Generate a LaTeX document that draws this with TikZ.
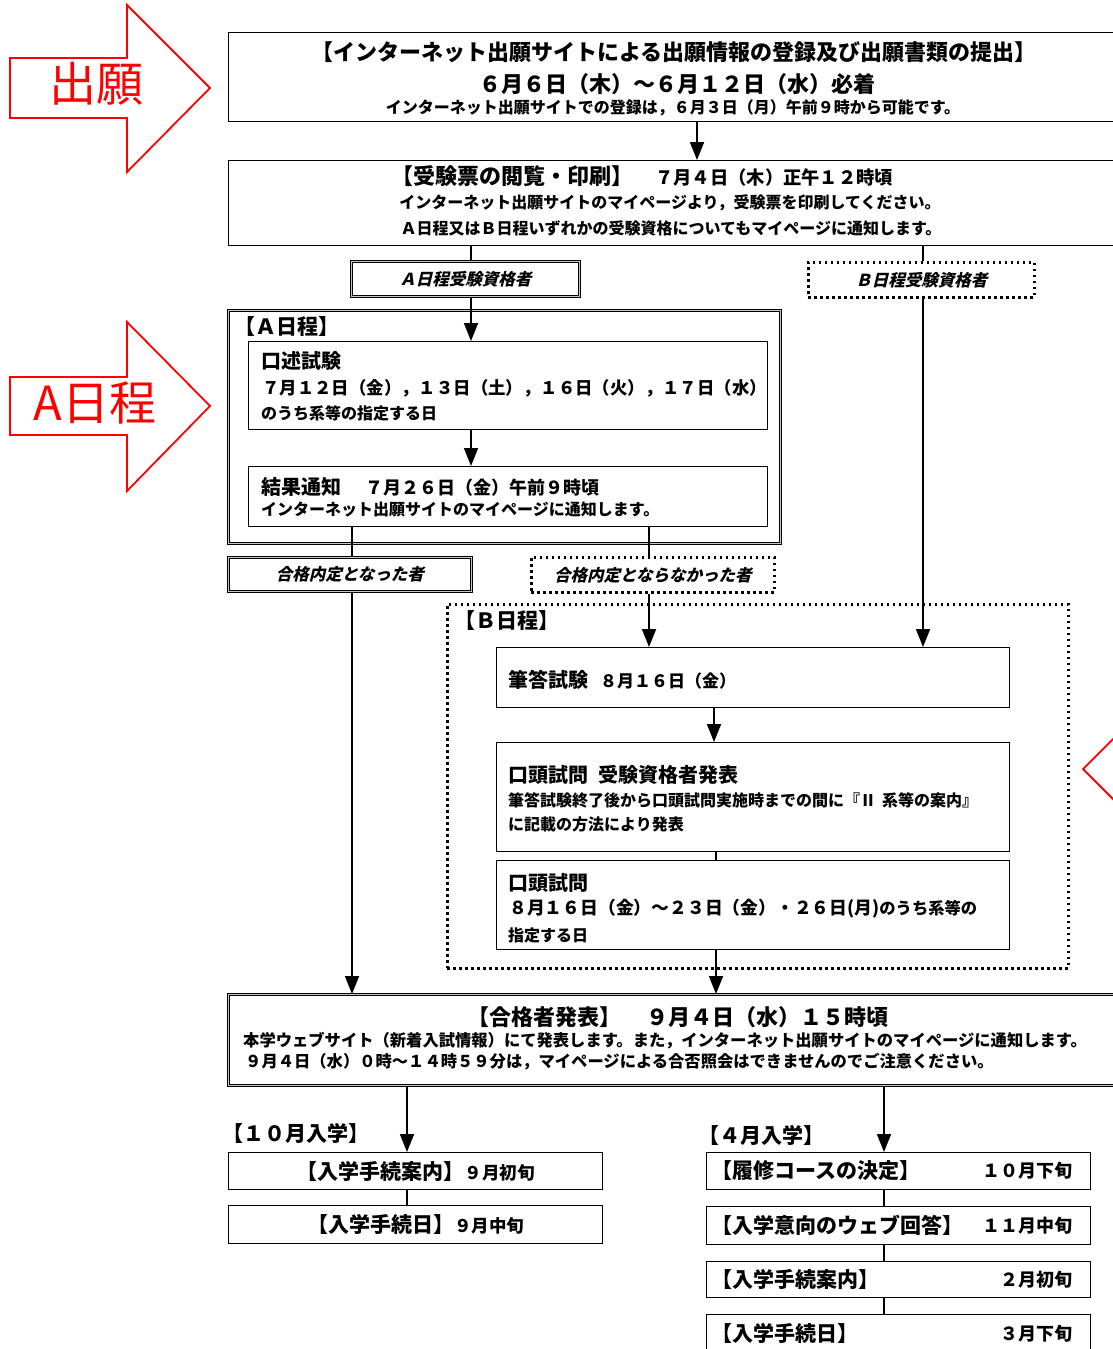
\documentclass[tikz,border=0pt]{standalone}
\usepackage{fontspec}
\setmainfont{Noto Sans CJK JP}
\newfontfamily\slfont{Noto Sans CJK JP}[UprightFeatures={FakeSlant=0.24}, BoldFeatures={FakeSlant=0.24}]
\usetikzlibrary{arrows.meta}
\newcommand\fsz[1]{\fontsize{#1}{#1}\selectfont}
\tikzset{
    box/.style={rectangle, draw, line width=1.1pt, anchor=north west, inner sep=0pt, font=\bfseries},
    dbox/.style={box, line width=0.9pt, double=gray!45, double distance=1.6pt},
    dotbox/.style={box, line width=2.6pt, dash pattern=on 2.6pt off 3.4pt},
    lab/.style={inner sep=0pt, font=\bfseries\fsz{#1}},
    tag/.style={font=\slfont\bfseries\fsz{16.5}},
    arrow/.style={-{Triangle[length=18pt, width=14pt]}, line width=1.8pt},
    link/.style={line width=1.8pt},
    redarrow/.style={draw=red, line width=1.8pt, line join=miter}
}

\begin{document}
\begin{tikzpicture}[x=1pt, y=-1pt]
    \path[use as bounding box, fill=white] (0,0) rectangle (1113,1349);

    % red side arrows
    \draw[redarrow] (10,58) -- (127,58) -- (127,5) -- (210,88) -- (127,172) -- (127,118) -- (10,118) -- cycle;
    \node[text=red, font=\fsz{47}] (appl) at (96,84) {出願};
    \draw[redarrow] (10,377) -- (127,377) -- (127,322) -- (210,406) -- (127,491) -- (127,435) -- (10,435) -- cycle;
    \node[text=red, font=\fsz{47}] (sched) at (95,403) {A日程};
    \draw[redarrow] (1283,739) -- (1166,739) -- (1166,686) -- (1083,769) -- (1166,852) -- (1166,799) -- (1283,799) -- cycle;

    % application
    \node[box, minimum width=892pt, minimum height=89pt] (reg) at (228,32) {};
    \node[lab=22] (regT) at (674,52) {【インターネット出願サイトによる出願情報の登録及び出願書類の提出】};
    \node[lab=22] (regD) at (677,84) {６月６日（木）～６月１２日（水）必着};
    \node[lab=16] (regN) at (673,108) {インターネット出願サイトでの登録は，６月３日（月）午前９時から可能です。};

    \node[box, minimum width=892pt, minimum height=85pt] (card) at (228,160) {};
    \node[lab=22, anchor=west] (cardT) at (391,176) {【受験票の閲覧・印刷】\hspace{22pt}{\fsz{18.3}７月４日（木）正午１２時頃}};
    \node[lab=16] (cardA) at (670,203) {インターネット出願サイトのマイページより，受験票を印刷してください。};
    \node[lab=16] (cardB) at (671,228) {Ａ日程又はＢ日程いずれかの受験資格についてもマイページに通知します。};

    \node[dbox, tag, minimum width=228pt, minimum height=35pt] (qa) at (351,261) {Ａ日程受験資格者};
    \node[dotbox, tag, minimum width=226pt, minimum height=35pt] (qb) at (807,261) {Ｂ日程受験資格者};

    % A schedule
    \node[dbox, minimum width=552pt, minimum height=233pt] (fa) at (228,310) {};
    \node[lab=21, anchor=west] (faT) at (234,327) {【Ａ日程】};
    \node[box, minimum width=519pt, minimum height=88pt] (oral) at (248,341) {};
    \node[lab=20, anchor=west] (oralT) at (261,361) {口述試験};
    \node[lab=17.4, anchor=west] (oralD) at (262,388) {７月１２日（金），１３日（土），１６日（火），１７日（水）};
    \node[lab=16, anchor=west] (oralN) at (261,413) {のうち系等の指定する日};
    \node[box, minimum width=519pt, minimum height=60pt] (res) at (248,466) {};
    \node[lab=20, anchor=west] (resT) at (261,487) {結果通知\hspace{24pt}{\fsz{18}７月２６日（金）午前９時頃}};
    \node[lab=16, anchor=west] (resN) at (261,509) {インターネット出願サイトのマイページに通知します。};

    \node[dbox, tag, minimum width=243pt, minimum height=34pt] (pa) at (228,557) {合格内定となった者};
    \node[dotbox, tag, minimum width=243pt, minimum height=35pt] (pn) at (530,556) {合格内定とならなかった者};

    % B schedule
    \node[dotbox, minimum width=621pt, minimum height=364pt] (fb) at (446,603) {};
    \node[lab=21, anchor=west] (fbT) at (454,621) {【Ｂ日程】};
    \node[box, minimum width=513pt, minimum height=60pt] (wri) at (496,647) {};
    \node[lab=20, anchor=west] (wriT) at (508,680) {筆答試験\hspace{12pt}{\fsz{17}８月１６日（金）}};
    \node[box, minimum width=513pt, minimum height=109pt] (ann) at (496,742) {};
    \node[lab=20, anchor=west] (annT) at (508,775) {口頭試問\hspace{10pt}受験資格者発表};
    \node[lab=16, anchor=west] (annA) at (508,800) {筆答試験終了後から口頭試問実施時までの間に『Ⅱ\hspace{6pt}系等の案内』};
    \node[lab=16, anchor=west] (annB) at (508,824) {に記載の方法により発表};
    \node[box, minimum width=513pt, minimum height=89pt] (intv) at (496,860) {};
    \node[lab=20, anchor=west] (intvT) at (508,883) {口頭試問};
    \node[lab=17.8, anchor=west] (intvD) at (509,909) {８月１６日（金）～２３日（金）・２６日(月){\fsz{16.3}のうち系等の}};
    \node[lab=16, anchor=west] (intvN) at (508,935) {指定する日};

    % results
    \node[dbox, minimum width=892pt, minimum height=91pt] (pass) at (228,994) {};
    \node[lab=22] (passT) at (678,1017) {【合格者発表】\hspace{26pt}９月４日（水）１５時頃};
    \node[lab=16.3, anchor=west] (passA) at (243,1041) {本学ウェブサイト（新着入試情報）にて発表します。また，インターネット出願サイトのマイページに通知します。};
    \node[lab=16.3, anchor=west] (passB) at (245,1062) {９月４日（水）０時～１４時５９分は，マイページによる合否照会はできませんのでご注意ください。};

    % October entry
    \node[lab=21, anchor=west] (octT) at (222,1133) {【１０月入学】};
    \node[box, minimum width=374pt, minimum height=37pt] (l1) at (228,1152) {{\fsz{21}【入学手続案内】}{\fsz{17.5}９月初旬}};
    \node[box, minimum width=374pt, minimum height=38pt] (l2) at (228,1205) {{\fsz{21}【入学手続日】}{\fsz{17.5}９月中旬}};

    % April entry
    \node[lab=21, anchor=west] (aprT) at (698,1135) {【４月入学】};
    \node[box, minimum width=384pt, minimum height=37pt] (r1) at (706,1152) {};
    \node[box, minimum width=384pt, minimum height=38pt] (r2) at (706,1206) {};
    \node[box, minimum width=384pt, minimum height=36pt] (r3) at (706,1261) {};
    \node[box, minimum width=384pt, minimum height=38pt] (r4) at (706,1314) {};
    \node[lab=21, anchor=west] (r1a) at ([xshift=5pt]r1.west) {【履修コースの決定】};
    \node[lab=18, anchor=east] (r1b) at ([xshift=-18pt]r1.east) {１０月下旬};
    \node[lab=21, anchor=west] (r2a) at ([xshift=5pt]r2.west) {【入学意向のウェブ回答】};
    \node[lab=18, anchor=east] (r2b) at ([xshift=-18pt]r2.east) {１１月中旬};
    \node[lab=21, anchor=west] (r3a) at ([xshift=5pt]r3.west) {【入学手続案内】};
    \node[lab=18, anchor=east] (r3b) at ([xshift=-18pt]r3.east) {２月初旬};
    \node[lab=21, anchor=west] (r4a) at ([xshift=5pt]r4.west) {【入学手続日】};
    \node[lab=18, anchor=east] (r4b) at ([xshift=-18pt]r4.east) {３月下旬};

    % columns of the connectors
    \coordinate (cR) at (697,0);
    \coordinate (cA) at (471,0);
    \coordinate (cB) at (923,0);
    \coordinate (cP) at (352,0);
    \coordinate (cN) at (649,0);
    \coordinate (cW) at (714,0);
    \coordinate (cI) at (716,0);
    \coordinate (c10) at (407,0);
    \coordinate (c4) at (884,0);

    \draw[arrow] (reg.south -| cR) -- (card.north -| cR);
    \draw[link] (card.south -| cA) -- (qa.north -| cA);
    \draw[link] (card.south -| cB) -- (qb.north -| cB);
    \draw[arrow] (qa.south -| cA) -- (oral.north -| cA);
    \draw[arrow] (oral.south -| cA) -- (res.north -| cA);
    \draw[link] (res.south -| cP) -- (pa.north -| cP);
    \draw[link] (res.south -| cN) -- (pn.north -| cN);
    \draw[arrow] (pa.south -| cP) -- (pass.north -| cP);
    \draw[arrow] (pn.south -| cN) -- (wri.north -| cN);
    \draw[arrow] (qb.south -| cB) -- (wri.north -| cB);
    \draw[arrow] (wri.south -| cW) -- (ann.north -| cW);
    \draw[link] (ann.south -| cI) -- (intv.north -| cI);
    \draw[arrow] (intv.south -| cI) -- (pass.north -| cI);
    \draw[arrow] (pass.south -| c10) -- (l1.north -| c10);
    \draw[link] (l1.south -| c10) -- (l2.north -| c10);
    \draw[arrow] (pass.south -| c4) -- (r1.north -| c4);
    \draw[link] (r1.south -| c4) -- (r2.north -| c4);
    \draw[link] (r2.south -| c4) -- (r3.north -| c4);
    \draw[link] (r3.south -| c4) -- (r4.north -| c4);
\end{tikzpicture}
\end{document}
